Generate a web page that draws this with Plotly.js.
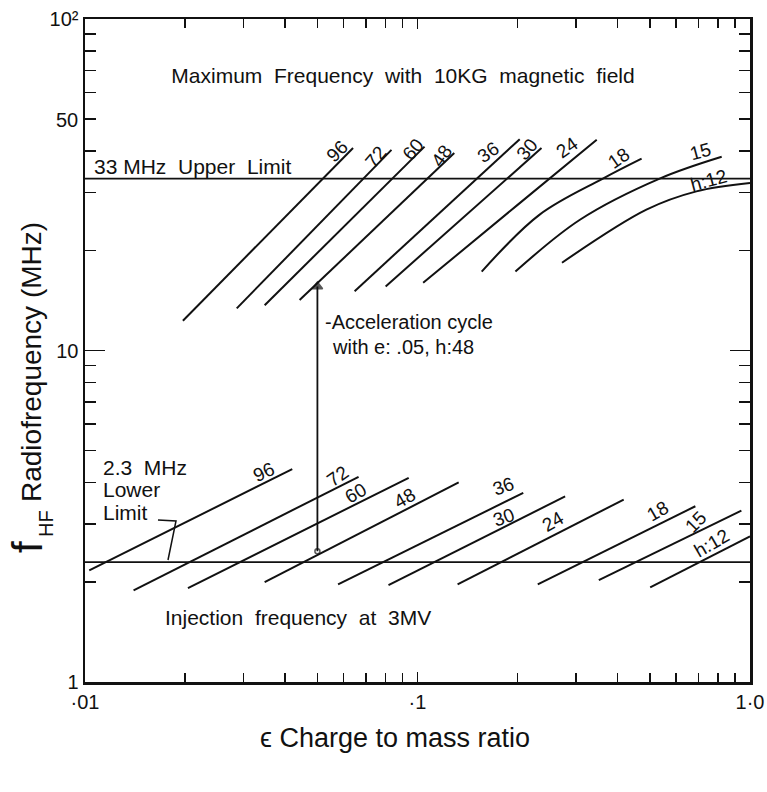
<!DOCTYPE html>
<html><head><meta charset="utf-8">
<script src="https://cdn.plot.ly/plotly-3.0.1.min.js"></script>
<style>html,body{margin:0;padding:0;background:#fff}</style>
</head><body><div id="chart" style="width:767px;height:792px"></div>
<script>
// ---- data ----
const harmonics = [96, 72, 60, 48, 36, 30, 24, 18, 15, 12];

// Maximum frequency with 10 kG magnetic field (upper family)
const maxEps96 = [0.0197, 0.064];   const maxF96 = [12.3, 40.8];
const maxEps72 = [0.0286, 0.0835];  const maxF72 = [13.4, 40.3];
const maxEps60 = [0.0347, 0.105];   const maxF60 = [13.7, 41.2];
const maxEps48 = [0.0442, 0.129];   const maxF48 = [14.2, 39.4];
const maxEps36 = [0.0647, 0.203];   const maxF36 = [15.1, 43.4];
const maxEps30 = [0.0802, 0.236];   const maxF30 = [15.6, 40.8];
const maxEps24 = [0.104, 0.20, 0.346]; const maxF24 = [16.0, 27.5, 43.2];
const maxEps18 = [0.156, 0.233, 0.361, 0.472]; const maxF18 = [17.3, 25.7, 33.0, 37.9];
const maxEps15 = [0.197, 0.308, 0.535, 0.822]; const maxF15 = [17.3, 24.8, 33.0, 38.4];
const maxEps12 = [0.272, 0.488, 0.690, 1.0];   const maxF12 = [18.4, 26.6, 30.2, 32.0];

// Injection frequency at 3 MV (lower family)
const injEps96 = [0.0103, 0.0420]; const injF96 = [2.17, 4.39];
const injEps72 = [0.0140, 0.0665]; const injF72 = [1.89, 4.16];
const injEps60 = [0.0204, 0.0941]; const injF60 = [1.92, 4.13];
const injEps48 = [0.0347, 0.133];  const injF48 = [2.00, 4.00];
const injEps36 = [0.0577, 0.208];  const injF36 = [1.97, 3.72];
const injEps30 = [0.0818, 0.278];  const injF30 = [1.96, 3.63];
const injEps24 = [0.132, 0.417];   const injF24 = [1.97, 3.55];
const injEps18 = [0.230, 0.685];   const injF18 = [1.97, 3.39];
const injEps15 = [0.351, 0.942];   const injF15 = [2.03, 3.29];
const injEps12 = [0.501, 1.0];     const injF12 = [1.93, 2.75];

// limits and acceleration cycle
const limitEps = [0.01, 1.0];
const upperLimit = [33, 33];
const lowerLimit = [2.3, 2.3];
const accelEps = [0.05, 0.05];
const accelF = [2.48, 15.6];

// tick labels
const yTickVals = [1, 10, 100];
const yTickText = ['1', '10', '10\u00B2'];
const yMinorVals = [2,3,4,5,6,7,8,9,20,30,40,50,60,70,80,90];
const xTickVals = [0.01, 0.1, 1];
const xTickText = ['\u00B701', '\u00B71', '1\u00B70'];
const xMinorVals = [0.02,0.03,0.04,0.05,0.06,0.07,0.08,0.09,0.2,0.3,0.4,0.5,0.6,0.7,0.8,0.9];

// ---- build ----
const FONT = 'Liberation Sans, Arial, sans-serif';
const maxSets = [[maxEps96,maxF96],[maxEps72,maxF72],[maxEps60,maxF60],[maxEps48,maxF48],[maxEps36,maxF36],[maxEps30,maxF30],[maxEps24,maxF24],[maxEps18,maxF18],[maxEps15,maxF15],[maxEps12,maxF12]];
const injSets = [[injEps96,injF96],[injEps72,injF72],[injEps60,injF60],[injEps48,injF48],[injEps36,injF36],[injEps30,injF30],[injEps24,injF24],[injEps18,injF18],[injEps15,injF15],[injEps12,injF12]];

const traces = [];
harmonics.forEach((h, i) => {
  const m = maxSets[i];
  traces.push({x: m[0], y: m[1], mode: 'lines', name: 'max h=' + h,
    line: {color: '#111', width: 2, shape: m[0].length > 2 ? 'spline' : 'linear'}, showlegend: false, hoverinfo: 'skip'});
  const j = injSets[i];
  traces.push({x: j[0], y: j[1], mode: 'lines', name: 'inj h=' + h,
    line: {color: '#111', width: 2}, showlegend: false, hoverinfo: 'skip'});
});
traces.push({x: limitEps, y: upperLimit, mode: 'lines', line: {color: '#111', width: 1.8}, showlegend: false, hoverinfo: 'skip'});
traces.push({x: limitEps, y: lowerLimit, mode: 'lines', line: {color: '#111', width: 1.8}, showlegend: false, hoverinfo: 'skip'});
// acceleration cycle arrow: shaft, open circle at start, arrow head at end
traces.push({x: accelEps, y: accelF, mode: 'lines', line: {color: '#111', width: 1.8}, showlegend: false, hoverinfo: 'skip'});
traces.push({x: accelEps, y: accelF, mode: 'markers',
  marker: {symbol: ['circle-open', 'triangle-up'], size: [5, 9], color: '#111', line: {width: 1.5, color: '#111'}},
  showlegend: false, hoverinfo: 'skip'});

// pixel -> paper helpers for text placement
const L = 85, T = 19, W = 665, H = 663;
const PX = p => (p - L) / W;
const PY = p => (T + H - p) / H;

function lbl(text, x, y, angle, size, anchor) {
  return {text: text, xref: 'paper', yref: 'paper', x: PX(x), y: PY(y), showarrow: false,
    textangle: angle || 0, font: {family: FONT, size: size || 19, color: '#111'},
    xanchor: anchor || 'center', yanchor: 'middle'};
}

const ann = [
  lbl('33 MHz  Upper  Limit', 92, 166, 0, 21, 'left'),
  // upper family labels
  lbl('96', 337, 152, -45), lbl('72', 375, 157, -50), lbl('60', 413, 150, -50), lbl('48', 441, 156, -55),
  lbl('36', 488, 153, -35), lbl('30', 527, 150, -50), lbl('24', 567, 147, -35), lbl('18', 618, 158, -35),
  lbl('15', 700, 152, -15), lbl('h:12', 708, 180, -15),
  // lower family labels
  lbl('96', 263, 472, -25), lbl('72', 337, 476, -35), lbl('60', 355, 493, -30), lbl('48', 404, 498, -30),
  lbl('36', 503, 487, -20), lbl('30', 503, 517, -20), lbl('24', 553, 521, -30), lbl('18', 657, 511, -30),
  lbl('15', 695, 522, -45), lbl('h:12', 711, 543, -30),
  // other texts
  lbl('-Acceleration cycle', 323, 322, 0, 20, 'left'),
  lbl('with e: .05, h:48', 330, 347, 0, 20, 'left'),
  lbl('2.3  MHz', 101, 467, 0, 21, 'left'),
  lbl('Lower', 101, 490, 0, 21, 'left'),
  lbl('Limit', 101, 512, 0, 21, 'left'),
  lbl('Injection  frequency  at  3MV', 163, 617, 0, 21, 'left'),
  lbl('50', 80, 120, 0, 20, 'right'),
  // y axis title: f with subscript HF, then the words
  lbl('f', 27, 547, -90, 42),
  lbl('HF', 46, 524, -90, 20),
  lbl('Radiofrequency (MHz)', 32, 362, -90, 28),
  // x axis title
  lbl('\u03F5 Charge to mass ratio', 395, 738, 0, 27)
];

// leader from "Limit" down to the 2.3 MHz line
const shapes = [{type: 'path', xref: 'paper', yref: 'paper',
  path: 'M ' + PX(158) + ' ' + PY(520) + ' L ' + PX(176) + ' ' + PY(521) + ' L ' + PX(168) + ' ' + PY(560),
  line: {color: '#111', width: 1.5}}];

const layout = {
  width: 767, height: 792,
  margin: {l: L, r: 767 - L - W, t: T, b: 792 - T - H, pad: 0},
  paper_bgcolor: '#fff', plot_bgcolor: '#fff',
  font: {family: FONT, size: 20, color: '#111'},
  showlegend: false,
  title: {text: 'Maximum  Frequency  with  10KG  magnetic  field', xref: 'paper', yref: 'paper',
    x: PX(403), y: PY(76), xanchor: 'center', yanchor: 'middle', font: {family: FONT, size: 21, color: '#111'}},
  xaxis: {type: 'log', range: [-2, 0], showgrid: false, zeroline: false,
    showline: true, linecolor: '#111', linewidth: 2.5, mirror: 'ticks',
    tickmode: 'array', tickvals: xTickVals, ticktext: xTickText,
    ticks: 'inside', ticklen: 10, tickwidth: 1.8, tickcolor: '#111',
    tickfont: {family: FONT, size: 20, color: '#111'},
    minor: {tickmode: 'array', tickvals: xMinorVals, ticks: 'inside', ticklen: 9, tickwidth: 1.5, tickcolor: '#111'}},
  yaxis: {type: 'log', range: [0, 2], showgrid: false, zeroline: false,
    showline: true, linecolor: '#111', linewidth: 2.5, mirror: 'ticks',
    tickmode: 'array', tickvals: yTickVals, ticktext: yTickText,
    ticks: 'inside', ticklen: 20, tickwidth: 1.8, tickcolor: '#111',
    tickfont: {family: FONT, size: 20, color: '#111'},
    minor: {tickmode: 'array', tickvals: yMinorVals, ticks: 'inside', ticklen: 11, tickwidth: 1.5, tickcolor: '#111'}},
  annotations: ann,
  shapes: shapes
};

Plotly.newPlot('chart', traces, layout, {staticPlot: true, displayModeBar: false});
</script></body></html>
